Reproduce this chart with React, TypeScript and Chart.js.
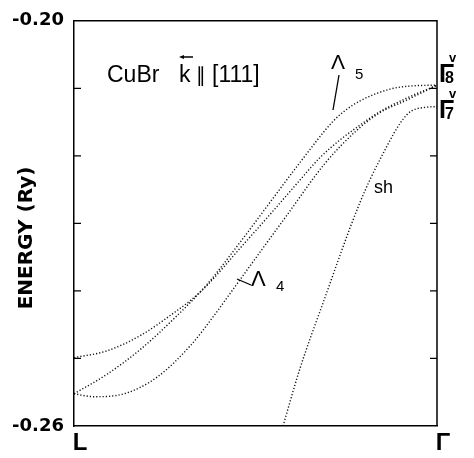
import { useEffect, useRef } from 'react';
import { Chart, registerables } from 'chart.js';

Chart.register(...registerables);

// k along L -> Gamma (0 = L, 1 = Gamma)
const kTicks = [0, 1];
const kTickLabels = ['L', 'Γ'];
const energyTicks = [-0.26, -0.25, -0.24, -0.23, -0.22, -0.21, -0.2];
const energyTickLabels = ['-0.26', '', '', '', '', '', '-0.20'];

// Lambda5 band (upper near Gamma)
const lambda5K = [0, 0.0909, 0.1846, 0.2755, 0.3664, 0.4573, 0.5399, 0.6226, 0.7135, 0.7466, 0.7879, 0.8705, 0.9394, 1];
const lambda5E = [-0.25523, -0.25234, -0.24858, -0.24410, -0.23904, -0.23282, -0.22689, -0.22097, -0.21489, -0.21330, -0.21186, -0.21012, -0.20961, -0.20954];

// band starting at -0.25 at L
const bandAK = [0, 0.0909, 0.1846, 0.2755, 0.3223, 0.3664, 0.4573, 0.5455, 0.6226, 0.6777, 0.7328, 0.7796, 0.8430, 0.9174, 1];
const bandAE = [-0.24988, -0.24887, -0.24655, -0.24323, -0.24135, -0.23918, -0.23369, -0.22834, -0.22357, -0.22025, -0.21764, -0.21576, -0.21344, -0.21142, -0.20954];

// Lambda4 band
const lambda4K = [0, 0.0551, 0.1377, 0.2287, 0.3223, 0.3857, 0.4325, 0.5124, 0.5868, 0.6915, 0.7796, 0.8430, 0.9174, 1];
const lambda4E = [-0.25523, -0.25566, -0.25523, -0.25277, -0.24800, -0.24366, -0.24019, -0.23426, -0.22877, -0.22111, -0.21619, -0.21359, -0.21171, -0.20954];

// split-off (sh) band
const shK = [0.5758, 0.6226, 0.6832, 0.7879, 0.843, 0.9174, 0.97, 1];
const shE = [-0.26, -0.25147, -0.24221, -0.22689, -0.22053, -0.21388, -0.2128, -0.21272];

const toPts = (ks: number[], es: number[]) => ks.map((k, i) => ({ x: k, y: es[i] }));

const SANS = '"Liberation Sans", Arial, sans-serif';
const DEJA = '"DejaVu Sans", sans-serif';

const framePlugin = {
  id: 'frameNotes',
  afterDraw(chart: any) {
    const { ctx, chartArea } = chart;
    const { left, right, top, bottom } = chartArea;
    const ys = chart.scales.y;
    ctx.save();
    ctx.strokeStyle = '#000';
    ctx.fillStyle = '#000';
    ctx.lineWidth = 1.5;
    ctx.beginPath();
    ctx.moveTo(left, top);
    ctx.lineTo(right, top);
    ctx.lineTo(right, bottom);
    ctx.stroke();
    // inward tick marks
    ctx.lineWidth = 1.3;
    energyTicks.forEach((v, i) => {
      if (i === 0 || i === energyTicks.length - 1) return;
      const py = ys.getPixelForValue(v);
      ctx.beginPath();
      ctx.moveTo(left, py);
      ctx.lineTo(left + 7, py);
      ctx.moveTo(right, py);
      ctx.lineTo(right - 7, py);
      ctx.stroke();
    });

    const text = (s: string, x: number, y: number, font: string, align: CanvasTextAlign = 'left') => {
      ctx.font = font;
      ctx.textAlign = align;
      ctx.textBaseline = 'alphabetic';
      ctx.fillText(s, x, y);
    };

    // y title
    ctx.save();
    ctx.translate(27, 238);
    ctx.rotate(-Math.PI / 2);
    ctx.font = `bold 20px ${DEJA}`;
    ctx.textAlign = 'center';
    ctx.textBaseline = 'middle';
    ctx.fillText('ENERGY (Ry)', 0, 0);
    ctx.restore();

    // title text
    text('CuBr', 107, 82, `23px ${SANS}`);
    text('k', 179, 82, `23px ${SANS}`);
    ctx.lineWidth = 1.5;
    ctx.beginPath();
    ctx.moveTo(183, 57);
    ctx.lineTo(193, 57);
    ctx.stroke();
    ctx.beginPath();
    ctx.moveTo(179, 57);
    ctx.lineTo(184, 55);
    ctx.lineTo(184, 59);
    ctx.closePath();
    ctx.fill();
    text('∥', 196, 82, `20px ${DEJA}`);
    text('[111]', 212, 82, `23px ${SANS}`);

    // Lambda5
    text('Λ', 331, 69, `21px ${SANS}`);
    text('5', 355, 79, `15px ${SANS}`);
    ctx.lineWidth = 1.3;
    ctx.beginPath();
    ctx.moveTo(339, 75);
    ctx.lineTo(333, 110);
    ctx.stroke();

    // Lambda4
    ctx.beginPath();
    ctx.moveTo(237, 279);
    ctx.lineTo(251, 285);
    ctx.stroke();
    text('Λ', 251, 286, `22px ${SANS}`);
    text('4', 276, 291, `15px ${SANS}`);

    // sh
    text('sh', 374, 193, `18px ${SANS}`);

    // Gamma labels
    text('Γ', 439, 82, `bold 25px ${SANS}`);
    text('8', 445, 83, `bold 16px ${SANS}`);
    text('v', 449, 62, `bold 13px ${SANS}`);
    text('Γ', 439, 118, `bold 25px ${SANS}`);
    text('7', 445, 119, `bold 16px ${SANS}`);
    text('v', 449, 98, `bold 13px ${SANS}`);

    ctx.restore();
  },
};

const dotted = (data: { x: number; y: number }[]) => ({
  data,
  borderColor: '#111',
  borderWidth: 1.4,
  borderDash: [1.2, 2],
  pointRadius: 0,
  fill: false,
  cubicInterpolationMode: 'monotone' as const,
});

export default function App() {
  const ref = useRef<HTMLCanvasElement>(null);
  useEffect(() => {
    document.body.style.margin = '0';
    const canvas = ref.current!;
    const chart = new Chart(canvas, {
      type: 'line',
      data: {
        datasets: [
          dotted(toPts(lambda5K, lambda5E)),
          dotted(toPts(bandAK, bandAE)),
          dotted(toPts(lambda4K, lambda4E)),
          dotted(toPts(shK, shE)),
        ],
      },
      options: {
        animation: false,
        responsive: false,
        layout: { padding: { left: 0, top: 11, right: 37, bottom: 0 } },
        plugins: { legend: { display: false }, tooltip: { enabled: false } },
        scales: {
          x: {
            type: 'linear',
            min: 0,
            max: 1,
            afterBuildTicks: (s: any) => {
              s.ticks = kTicks.map((v) => ({ value: v }));
            },
            afterFit: (s: any) => {
              s.height = 32;
            },
            ticks: {
              autoSkip: false,
              maxRotation: 0,
              padding: 3,
              labelOffset: 6,
              color: '#000',
              font: { family: SANS, size: 24, weight: 'bold' },
              callback: (v: any) => kTickLabels[kTicks.indexOf(Number(v))] ?? '',
            },
            grid: { display: true, drawOnChartArea: false, drawTicks: false },
            border: { color: '#000', width: 1.5 },
          },
          y: {
            type: 'linear',
            min: -0.26,
            max: -0.2,
            afterBuildTicks: (s: any) => {
              s.ticks = energyTicks.map((v) => ({ value: v }));
            },
            afterFit: (s: any) => {
              s.width = 74;
            },
            ticks: {
              autoSkip: false,
              padding: 10,
              color: '#000',
              font: { family: DEJA, size: 18, weight: 'bold' },
              callback: (v: any) => {
                const i = energyTicks.findIndex((t) => Math.abs(t - Number(v)) < 1e-6);
                return i >= 0 ? energyTickLabels[i] : '';
              },
            },
            grid: { display: true, drawOnChartArea: false, drawTicks: false },
            border: { color: '#000', width: 1.5 },
          },
        },
      },
      plugins: [framePlugin],
    });
    return () => chart.destroy();
  }, []);
  return <canvas ref={ref} width={474} height={458} style={{ display: 'block' }} />;
}
